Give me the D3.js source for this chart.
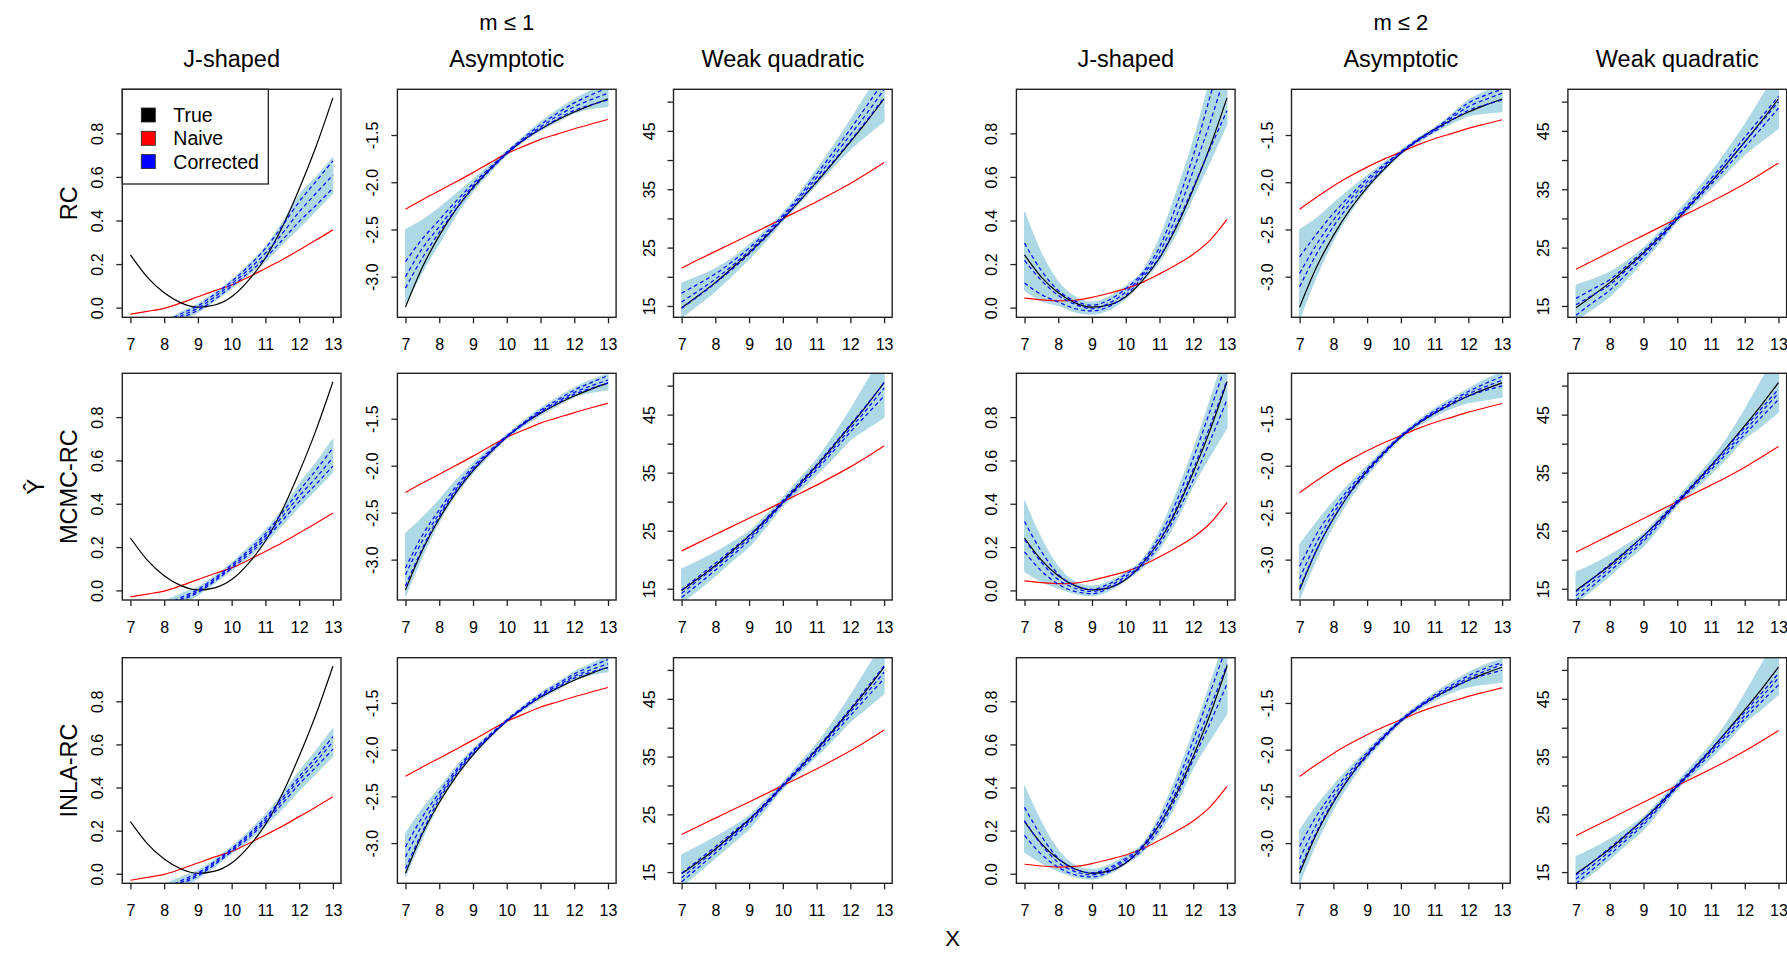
<!DOCTYPE html>
<html><head><meta charset="utf-8">
<script src="https://cdn.jsdelivr.net/npm/d3@7"></script>
<style>
body{margin:0;background:#fff}
svg{display:block}
text{font-family:"Liberation Sans",Arial,sans-serif;fill:#000}
</style></head>
<body><svg id="c" width="1787" height="953"></svg>
<script>
// ---------- data ----------
const xs = [7,7.5,8,8.5,9,9.5,10,10.5,11,11.5,12,12.5,13];
const xTicks = [7,8,9,10,11,12,13];
const colTitles = ["J-shaped","Asymptotic","Weak quadratic","J-shaped","Asymptotic","Weak quadratic"];
const groupTitles = ["m \u2264 1","m \u2264 2"];
const rowLabels = ["RC","MCMC-RC","INLA-RC"];
const legendLabels = ["True","Naive","Corrected"];

// true curves
const trueJ = [0.242,0.14,0.068,0.022,0.002,0.012,0.05,0.125,0.228,0.37,0.545,0.74,0.963];
const trueA = [-3.322,-2.9,-2.565,-2.285,-2.056,-1.863,-1.694,-1.553,-1.44,-1.342,-1.257,-1.184,-1.118];
const trueW = [14.7,16.8,19.0,21.5,24.1,26.9,29.9,33.0,36.2,39.6,43.1,46.7,50.5];
// naive curves
const naiveJ1 = [-0.03,-0.017,-0.003,0.022,0.05,0.078,0.104,0.14,0.18,0.22,0.265,0.31,0.357];
const naiveJ2 = [0.044,0.036,0.031,0.034,0.047,0.066,0.087,0.116,0.155,0.197,0.245,0.31,0.405];
const naiveA1 = [-2.285,-2.185,-2.091,-1.995,-1.898,-1.795,-1.697,-1.62,-1.546,-1.49,-1.434,-1.383,-1.335];
const naiveA2 = [-2.287,-2.16,-2.04,-1.935,-1.84,-1.755,-1.68,-1.605,-1.54,-1.485,-1.43,-1.383,-1.338];
const naiveW1 = [21.5,22.95,24.35,25.75,27.15,28.55,30.0,31.4,32.85,34.4,36.0,37.75,39.6];
const naiveW2 = [21.3,22.75,24.2,25.65,27.1,28.55,30.0,31.4,32.85,34.35,35.95,37.7,39.5];

// corrected: mean, lower/upper dashed quantiles, light-blue envelope
const RC_J1_mean = [-0.16,-0.12,-0.08,-0.038,-0.003,0.05,0.109,0.175,0.25,0.34,0.44,0.525,0.608];
const RC_J1_qlo  = [-0.17,-0.13,-0.09,-0.048,-0.013,0.038,0.098,0.16,0.228,0.31,0.395,0.47,0.548];
const RC_J1_qhi  = [-0.15,-0.11,-0.07,-0.028,0.008,0.062,0.12,0.19,0.272,0.375,0.486,0.58,0.674];
const RC_J1_blo  = [-0.18,-0.14,-0.1,-0.06,-0.022,0.03,0.088,0.15,0.21,0.29,0.364,0.445,0.525];
const RC_J1_bhi  = [-0.14,-0.1,-0.06,-0.02,0.018,0.07,0.128,0.2,0.28,0.39,0.517,0.6,0.69];

const MC_J1_mean = [-0.16,-0.12,-0.08,-0.04,-0.003,0.05,0.11,0.175,0.25,0.34,0.435,0.52,0.613];
const MC_J1_qlo  = [-0.17,-0.13,-0.09,-0.048,-0.01,0.043,0.102,0.165,0.238,0.322,0.41,0.49,0.574];
const MC_J1_qhi  = [-0.15,-0.11,-0.07,-0.032,0.004,0.057,0.118,0.185,0.262,0.358,0.46,0.555,0.658];
const MC_J1_blo  = [-0.19,-0.15,-0.11,-0.065,-0.022,0.033,0.093,0.15,0.222,0.3,0.385,0.465,0.544];
const MC_J1_bhi  = [-0.13,-0.09,-0.05,-0.015,0.016,0.068,0.128,0.2,0.278,0.375,0.49,0.59,0.699];

const IN_J1_mean = [-0.16,-0.12,-0.08,-0.04,-0.003,0.05,0.11,0.175,0.25,0.34,0.435,0.52,0.613];
const IN_J1_qlo  = [-0.17,-0.13,-0.09,-0.048,-0.01,0.043,0.103,0.166,0.24,0.325,0.415,0.495,0.578];
const IN_J1_qhi  = [-0.15,-0.11,-0.07,-0.032,0.004,0.057,0.117,0.183,0.26,0.352,0.45,0.54,0.636];
const IN_J1_blo  = [-0.19,-0.15,-0.11,-0.065,-0.022,0.033,0.094,0.152,0.222,0.3,0.385,0.465,0.544];
const IN_J1_bhi  = [-0.13,-0.09,-0.05,-0.015,0.016,0.067,0.126,0.196,0.276,0.37,0.475,0.572,0.674];

const RC_A1_mean = [-3.0,-2.7,-2.47,-2.24,-2.04,-1.86,-1.69,-1.545,-1.415,-1.3,-1.2,-1.125,-1.058];
const RC_A1_qlo  = [-3.12,-2.8,-2.53,-2.28,-2.065,-1.875,-1.7,-1.555,-1.435,-1.33,-1.24,-1.18,-1.13];
const RC_A1_qhi  = [-2.84,-2.6,-2.4,-2.2,-2.015,-1.845,-1.68,-1.53,-1.39,-1.27,-1.16,-1.075,-1.0];
const RC_A1_blo  = [-3.3,-2.95,-2.65,-2.35,-2.1,-1.9,-1.715,-1.57,-1.455,-1.36,-1.27,-1.22,-1.2];
const RC_A1_bhi  = [-2.5,-2.4,-2.27,-2.12,-1.97,-1.82,-1.665,-1.51,-1.36,-1.235,-1.12,-1.03,-0.96];

const MC_A1_mean = [-3.16,-2.8,-2.51,-2.25,-2.03,-1.85,-1.69,-1.55,-1.425,-1.32,-1.22,-1.15,-1.087];
const MC_A1_qlo  = [-3.28,-2.88,-2.54,-2.27,-2.045,-1.865,-1.698,-1.56,-1.438,-1.335,-1.24,-1.175,-1.12];
const MC_A1_qhi  = [-3.09,-2.74,-2.47,-2.22,-2.01,-1.838,-1.682,-1.54,-1.41,-1.3,-1.195,-1.115,-1.04];
const MC_A1_blo  = [-3.39,-2.97,-2.6,-2.31,-2.08,-1.89,-1.71,-1.58,-1.465,-1.365,-1.27,-1.22,-1.193];
const MC_A1_bhi  = [-2.72,-2.55,-2.36,-2.15,-1.97,-1.815,-1.668,-1.52,-1.385,-1.275,-1.17,-1.085,-1.023];

const IN_A1_mean = [-3.146,-2.8,-2.5,-2.24,-2.025,-1.85,-1.688,-1.55,-1.425,-1.32,-1.215,-1.145,-1.082];
const IN_A1_qlo  = [-3.27,-2.88,-2.53,-2.26,-2.04,-1.86,-1.694,-1.56,-1.435,-1.335,-1.235,-1.17,-1.124];
const IN_A1_qhi  = [-3.04,-2.72,-2.46,-2.215,-2.01,-1.84,-1.682,-1.54,-1.41,-1.3,-1.19,-1.11,-1.035];
const IN_A1_blo  = [-3.36,-2.95,-2.58,-2.3,-2.07,-1.88,-1.705,-1.575,-1.46,-1.36,-1.26,-1.2,-1.167];
const IN_A1_bhi  = [-2.9,-2.63,-2.41,-2.18,-1.99,-1.825,-1.672,-1.525,-1.39,-1.28,-1.165,-1.08,-1.0];

const RC_W1_mean = [15.7,17.6,19.6,21.9,24.4,27.2,30.2,33.5,37.0,40.6,44.3,48.1,52.1];
const RC_W1_qlo  = [14.6,16.7,18.9,21.3,23.9,26.8,29.9,33.1,36.4,39.8,43.3,46.9,50.7];
const RC_W1_qhi  = [17.2,18.8,20.5,22.6,24.9,27.6,30.5,33.9,37.6,41.4,45.3,49.4,53.6];
const RC_W1_blo  = [13.0,15.2,17.5,20.2,23.0,26.1,29.5,32.6,35.7,38.8,41.8,44.3,46.6];
const RC_W1_bhi  = [18.9,20.1,21.4,23.2,25.5,28.1,31.0,34.5,38.4,42.5,46.9,51.5,56.0];

const MC_W1_mean = [14.2,16.5,18.8,21.2,23.7,26.7,29.9,32.9,35.9,39.2,42.6,46.0,49.6];
const MC_W1_qlo  = [13.5,15.8,18.2,20.7,23.3,26.4,29.7,32.6,35.5,38.7,42.0,45.1,48.2];
const MC_W1_qhi  = [14.8,17.1,19.4,21.8,24.2,27.1,30.2,33.3,36.4,39.8,43.3,46.8,50.5];
const MC_W1_blo  = [12.5,14.8,17.2,19.8,22.2,25.6,29.2,31.9,34.6,37.5,40.6,42.6,44.5];
const MC_W1_bhi  = [18.4,19.8,21.3,23.0,24.9,27.7,30.7,34.0,37.3,41.4,45.9,50.8,55.5];

const IN_W1_mean = [14.0,16.4,18.8,21.3,23.8,26.8,30.0,33.0,36.0,39.3,42.7,46.1,49.6];
const IN_W1_qlo  = [13.3,15.8,18.3,20.9,23.5,26.5,29.8,32.7,35.6,38.8,42.1,45.3,48.5];
const IN_W1_qhi  = [14.8,17.1,19.4,21.8,24.2,27.1,30.2,33.3,36.4,39.8,43.3,47.0,50.7];
const IN_W1_blo  = [12.5,14.9,17.4,19.9,22.5,25.9,29.4,32.2,35.0,37.9,41.0,43.4,45.9];
const IN_W1_bhi  = [18.0,19.5,21.1,22.8,24.8,27.6,30.6,33.9,37.2,41.2,45.6,50.3,55.0];

const RC_J2_mean = [0.217,0.125,0.056,0.015,-0.005,0.02,0.072,0.15,0.255,0.42,0.629,0.85,1.10];
const RC_J2_qlo  = [0.113,0.06,0.026,-0.005,-0.015,0.005,0.056,0.14,0.232,0.38,0.553,0.73,0.904];
const RC_J2_qhi  = [0.296,0.17,0.079,0.03,0.011,0.035,0.087,0.16,0.278,0.47,0.698,0.97,1.25];
const RC_J2_blo  = [0.08,0.03,0.01,-0.02,-0.03,-0.01,0.04,0.12,0.21,0.34,0.507,0.67,0.843];
const RC_J2_bhi  = [0.44,0.25,0.12,0.05,0.025,0.05,0.1,0.17,0.32,0.53,0.766,1.05,1.35];

const MC_J2_mean = [0.235,0.13,0.05,0.01,-0.005,0.02,0.064,0.125,0.231,0.38,0.559,0.76,0.97];
const MC_J2_qlo  = [0.178,0.09,0.028,-0.005,-0.015,0.01,0.054,0.115,0.212,0.35,0.51,0.69,0.88];
const MC_J2_qhi  = [0.318,0.18,0.075,0.022,0.005,0.03,0.074,0.135,0.25,0.41,0.61,0.83,1.06];
const MC_J2_blo  = [0.087,0.04,0.01,-0.015,-0.025,-0.002,0.045,0.105,0.19,0.32,0.483,0.62,0.75];
const MC_J2_bhi  = [0.414,0.24,0.11,0.04,0.02,0.04,0.085,0.145,0.275,0.45,0.65,0.88,1.12];

const IN_J2_mean = [0.247,0.135,0.052,0.01,-0.005,0.018,0.064,0.12,0.23,0.385,0.575,0.77,0.97];
const IN_J2_qlo  = [0.178,0.09,0.03,-0.005,-0.015,0.008,0.054,0.11,0.21,0.355,0.53,0.7,0.88];
const IN_J2_qhi  = [0.308,0.175,0.072,0.02,0.005,0.028,0.072,0.13,0.25,0.415,0.62,0.84,1.06];
const IN_J2_blo  = [0.1,0.05,0.012,-0.015,-0.025,-0.002,0.045,0.1,0.19,0.325,0.49,0.62,0.742];
const IN_J2_bhi  = [0.407,0.24,0.11,0.04,0.02,0.04,0.085,0.14,0.27,0.45,0.66,0.88,1.12];

const RC_A2_mean = [-2.965,-2.66,-2.4,-2.18,-1.995,-1.83,-1.68,-1.555,-1.447,-1.32,-1.2,-1.125,-1.058];
const RC_A2_qlo  = [-3.107,-2.76,-2.47,-2.23,-2.03,-1.85,-1.69,-1.565,-1.46,-1.345,-1.24,-1.18,-1.13];
const RC_A2_qhi  = [-2.79,-2.55,-2.33,-2.14,-1.965,-1.815,-1.675,-1.545,-1.435,-1.3,-1.16,-1.08,-1.016];
const RC_A2_blo  = [-3.45,-3.0,-2.62,-2.32,-2.08,-1.88,-1.71,-1.58,-1.475,-1.38,-1.3,-1.27,-1.253];
const RC_A2_bhi  = [-2.5,-2.38,-2.22,-2.07,-1.93,-1.79,-1.66,-1.53,-1.42,-1.28,-1.13,-1.04,-0.96];

const MC_A2_mean = [-3.2,-2.82,-2.51,-2.26,-2.055,-1.86,-1.688,-1.55,-1.43,-1.33,-1.235,-1.16,-1.09];
const MC_A2_qlo  = [-3.3,-2.9,-2.56,-2.29,-2.075,-1.875,-1.698,-1.56,-1.445,-1.35,-1.26,-1.2,-1.15];
const MC_A2_qhi  = [-3.07,-2.73,-2.46,-2.23,-2.035,-1.848,-1.678,-1.54,-1.415,-1.31,-1.21,-1.125,-1.05];
const MC_A2_blo  = [-3.42,-3.0,-2.64,-2.35,-2.11,-1.9,-1.715,-1.58,-1.475,-1.39,-1.33,-1.3,-1.27];
const MC_A2_bhi  = [-2.84,-2.6,-2.38,-2.18,-2.0,-1.825,-1.665,-1.52,-1.39,-1.28,-1.18,-1.08,-1.006];

const IN_A2_mean = [-3.17,-2.8,-2.5,-2.255,-2.05,-1.86,-1.688,-1.55,-1.43,-1.33,-1.235,-1.16,-1.09];
const IN_A2_qlo  = [-3.28,-2.88,-2.55,-2.285,-2.07,-1.875,-1.698,-1.56,-1.445,-1.35,-1.26,-1.2,-1.15];
const IN_A2_qhi  = [-3.035,-2.71,-2.45,-2.225,-2.03,-1.848,-1.678,-1.54,-1.415,-1.31,-1.21,-1.13,-1.07];
const IN_A2_blo  = [-3.43,-3.0,-2.64,-2.35,-2.1,-1.9,-1.715,-1.58,-1.475,-1.39,-1.33,-1.3,-1.28];
const IN_A2_bhi  = [-2.86,-2.6,-2.38,-2.18,-2.0,-1.825,-1.665,-1.52,-1.39,-1.28,-1.175,-1.09,-1.03];

const RC_W2_mean = [15.2,16.9,18.6,21.2,23.9,26.9,30.1,33.1,36.3,39.7,43.1,46.5,50.0];
const RC_W2_qlo  = [13.4,15.6,17.7,20.5,23.4,26.5,29.8,32.8,35.8,39.0,42.2,45.5,48.9];
const RC_W2_qhi  = [16.3,17.9,19.5,21.9,24.4,27.3,30.4,33.5,36.8,40.3,43.9,47.4,50.9];
const RC_W2_blo  = [12.5,14.5,16.6,19.5,22.6,25.9,29.4,32.2,35.1,38.0,40.9,43.2,45.4];
const RC_W2_bhi  = [18.6,19.6,20.8,22.7,25.0,27.9,31.1,34.4,37.9,41.9,46.1,50.8,55.5];

const MC_W2_mean = [13.8,16.2,18.6,21.1,23.6,26.7,29.9,32.9,35.9,39.0,42.2,45.5,48.7];
const MC_W2_qlo  = [13.0,15.5,18.0,20.6,23.2,26.4,29.7,32.6,35.5,38.5,41.6,44.6,47.6];
const MC_W2_qhi  = [14.5,16.8,19.2,21.6,24.1,27.1,30.2,33.2,36.3,39.5,42.8,46.1,49.4];
const MC_W2_blo  = [12.5,14.8,17.2,19.8,22.3,25.7,29.3,32.0,34.7,37.6,40.8,43.0,45.4];
const MC_W2_bhi  = [17.9,19.2,20.8,22.6,24.6,27.6,30.7,33.9,37.2,41.2,45.9,51.0,56.0];

const IN_W2_mean = [13.8,16.2,18.6,21.1,23.6,26.7,29.9,32.9,35.9,39.0,42.1,45.3,48.6];
const IN_W2_qlo  = [13.0,15.5,18.0,20.6,23.2,26.4,29.7,32.6,35.5,38.5,41.5,44.5,47.4];
const IN_W2_qhi  = [14.5,16.8,19.2,21.6,24.1,27.1,30.2,33.2,36.3,39.5,42.7,46.0,49.4];
const IN_W2_blo  = [12.5,14.8,17.2,19.8,22.3,25.7,29.3,32.0,34.7,37.6,40.8,43.2,45.7];
const IN_W2_bhi  = [17.7,19.1,20.7,22.5,24.6,27.6,30.7,33.9,37.2,41.2,45.9,51.0,56.0];

// y-axis settings per curve family
const yDomains = {J:[-0.0443,1.0022], A:[-3.43,-1.016], W:[13.06,52.12]};
const yTicks   = {J:[0,0.2,0.4,0.6,0.8], A:[-3,-2.5,-2,-1.5], W:[15,20,25,30,35,40,45,50]};
const yLabelled= {J:[0,0.2,0.4,0.6,0.8], A:[-3,-2.5,-2,-1.5], W:[15,25,35,45]};

// ---------- panel assembly ----------
const colType  = ["J","A","W","J","A","W"];
const colGroup = [1,1,1,2,2,2];
const truthOf  = {J:trueJ, A:trueA, W:trueW};
const naiveOf  = {J1:naiveJ1,J2:naiveJ2,A1:naiveA1,A2:naiveA2,W1:naiveW1,W2:naiveW2};
const corr = {
  RC_J1:[RC_J1_mean,RC_J1_qlo,RC_J1_qhi,RC_J1_blo,RC_J1_bhi],
  MC_J1:[MC_J1_mean,MC_J1_qlo,MC_J1_qhi,MC_J1_blo,MC_J1_bhi],
  IN_J1:[IN_J1_mean,IN_J1_qlo,IN_J1_qhi,IN_J1_blo,IN_J1_bhi],
  RC_A1:[RC_A1_mean,RC_A1_qlo,RC_A1_qhi,RC_A1_blo,RC_A1_bhi],
  MC_A1:[MC_A1_mean,MC_A1_qlo,MC_A1_qhi,MC_A1_blo,MC_A1_bhi],
  IN_A1:[IN_A1_mean,IN_A1_qlo,IN_A1_qhi,IN_A1_blo,IN_A1_bhi],
  RC_W1:[RC_W1_mean,RC_W1_qlo,RC_W1_qhi,RC_W1_blo,RC_W1_bhi],
  MC_W1:[MC_W1_mean,MC_W1_qlo,MC_W1_qhi,MC_W1_blo,MC_W1_bhi],
  IN_W1:[IN_W1_mean,IN_W1_qlo,IN_W1_qhi,IN_W1_blo,IN_W1_bhi],
  RC_J2:[RC_J2_mean,RC_J2_qlo,RC_J2_qhi,RC_J2_blo,RC_J2_bhi],
  MC_J2:[MC_J2_mean,MC_J2_qlo,MC_J2_qhi,MC_J2_blo,MC_J2_bhi],
  IN_J2:[IN_J2_mean,IN_J2_qlo,IN_J2_qhi,IN_J2_blo,IN_J2_bhi],
  RC_A2:[RC_A2_mean,RC_A2_qlo,RC_A2_qhi,RC_A2_blo,RC_A2_bhi],
  MC_A2:[MC_A2_mean,MC_A2_qlo,MC_A2_qhi,MC_A2_blo,MC_A2_bhi],
  IN_A2:[IN_A2_mean,IN_A2_qlo,IN_A2_qhi,IN_A2_blo,IN_A2_bhi],
  RC_W2:[RC_W2_mean,RC_W2_qlo,RC_W2_qhi,RC_W2_blo,RC_W2_bhi],
  MC_W2:[MC_W2_mean,MC_W2_qlo,MC_W2_qhi,MC_W2_blo,MC_W2_bhi],
  IN_W2:[IN_W2_mean,IN_W2_qlo,IN_W2_qhi,IN_W2_blo,IN_W2_bhi]
};
const rowKey = ["RC","MC","IN"];

// ---------- layout ----------
const colLeft = [122.3,397.4,673.5,1016.4,1291.5,1567.9];
const panelW = 218.7;
const rowTop = [89.3,373.3,657.7];
const rowH = [228,226.7,225.6];
const FONT_TICK = 16, FONT_TITLE = 23.5, FONT_ROW = 23.5;

const svg = d3.select("#c");
const lightblue = "#ADD8E6";

for (let r=0;r<3;r++){
  for (let c=0;c<6;c++){
    const t = colType[c], g = colGroup[c];
    const H = rowH[r];
    const gP = svg.append("g").attr("transform",`translate(${colLeft[c]},${rowTop[r]})`);
    const x = d3.scaleLinear().domain([6.76,13.24]).range([0,panelW]);
    const y = d3.scaleLinear().domain(yDomains[t]).range([H,0]);
    const cid = `clip${r}${c}`;
    gP.append("clipPath").attr("id",cid).append("rect").attr("width",panelW).attr("height",H);
    const plot = gP.append("g").attr("clip-path",`url(#${cid})`);
    const line = d3.line().x((d,i)=>x(xs[i])).y(d=>y(d)).curve(d3.curveMonotoneX);
    const [mean,qlo,qhi,blo,bhi] = corr[`${rowKey[r]}_${t}${g}`];
    const area = d3.area().x((d,i)=>x(xs[i])).y0((d,i)=>y(blo[i])).y1(d=>y(d)).curve(d3.curveMonotoneX);
    plot.append("path").attr("d",area(bhi)).attr("fill",lightblue).attr("stroke",lightblue).attr("stroke-width",1);
    plot.append("path").attr("d",line(naiveOf[t+g])).attr("fill","none").attr("stroke","#FF0000").attr("stroke-width",1.2);
    plot.append("path").attr("d",line(truthOf[t])).attr("fill","none").attr("stroke","#000").attr("stroke-width",1.2);
    for (const s of [qlo,mean,qhi]){
      plot.append("path").attr("d",line(s)).attr("fill","none").attr("stroke","#0000FF")
        .attr("stroke-width",1.2).attr("stroke-dasharray","4,3");
    }
    // box
    gP.append("rect").attr("width",panelW).attr("height",H).attr("fill","none").attr("stroke","#222").attr("stroke-width",1.4);
    // x axis
    const ax = gP.append("g").attr("transform",`translate(0,${H})`)
      .call(d3.axisBottom(x).tickValues(xTicks).tickSize(6).tickPadding(4).tickFormat(d3.format("d")));
    ax.select(".domain").remove();
    ax.selectAll("line").attr("stroke","#222").attr("stroke-width",1.3);
    ax.selectAll("text").attr("font-size",FONT_TICK).attr("font-family","Liberation Sans, Arial, sans-serif")
      .attr("y",null).attr("dy",null).attr("transform","translate(0,32.5)");
    // y axis
    const fmt = t==="W" ? d3.format("d") : d3.format(".1f");
    const labelled = yLabelled[t];
    const ay = gP.append("g")
      .call(d3.axisLeft(y).tickValues(yTicks[t]).tickSize(6)
        .tickFormat(d=> labelled.some(v=>Math.abs(v-d)<1e-9) ? fmt(d).replace("\u2212","-") : ""));
    ay.select(".domain").remove();
    ay.selectAll("line").attr("stroke","#222").attr("stroke-width",1.3);
    ay.selectAll("text").attr("font-size",FONT_TICK).attr("font-family","Liberation Sans, Arial, sans-serif")
      .attr("x",null).attr("dy",null).attr("text-anchor","middle")
      .attr("transform","translate(-19,0) rotate(-90)");
    // column titles
    if (r===0){
      gP.append("text").attr("x",panelW/2).attr("y",-22).attr("text-anchor","middle")
        .attr("font-size",FONT_TITLE).text(colTitles[c]);
      if (c===1 || c===4){
        gP.append("text").attr("x",panelW/2).attr("y",-59.5).attr("text-anchor","middle")
          .attr("font-size",22).text(groupTitles[g-1]);
      }
    }
    // legend
    if (r===0 && c===0){
      const lg = gP.append("g");
      lg.append("rect").attr("x",0).attr("y",0).attr("width",146).attr("height",94.7)
        .attr("fill","#fff").attr("stroke","#222").attr("stroke-width",1.3);
      const cols = ["#000","#FF0000","#0000FF"];
      legendLabels.forEach((lab,i)=>{
        const cy = 25.7 + i*23.3;
        lg.append("rect").attr("x",19).attr("y",cy-7).attr("width",14).attr("height",14)
          .attr("fill",cols[i]).attr("stroke","#222").attr("stroke-width",0.8);
        lg.append("text").attr("x",51).attr("y",cy+7).attr("font-size",19.5).text(lab);
      });
    }
  }
  // row labels
  const cy = rowTop[r] + rowH[r]/2;
  svg.append("text").attr("transform",`translate(77,${cy}) rotate(-90)`).attr("text-anchor","middle")
    .attr("font-size",FONT_ROW).text(rowLabels[r]);
}
// axis titles
const midY = rowTop[1] + rowH[1]/2;
svg.append("text").attr("transform",`translate(43.5,${midY}) rotate(-90)`).attr("text-anchor","middle")
  .attr("font-size",24).text("\u0176");
svg.append("text").attr("x",952.6).attr("y",946).attr("text-anchor","middle").attr("font-size",22).text("X");
</script>
</body></html>
